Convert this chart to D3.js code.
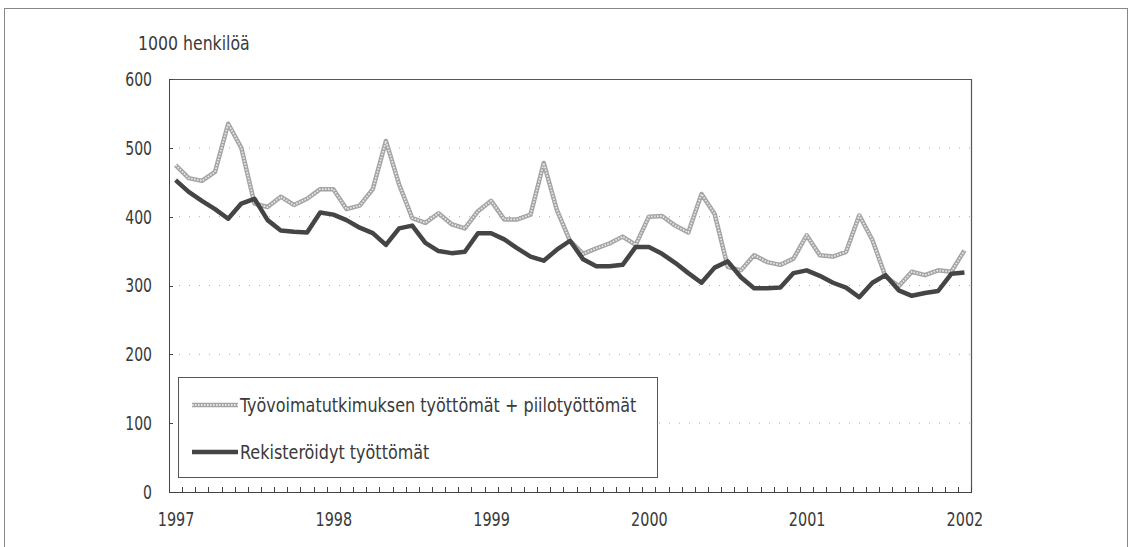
<!DOCTYPE html>
<html lang="fi">
<head>
<meta charset="utf-8">
<title>Työttömät 1997-2002</title>
<script src="https://cdn.jsdelivr.net/npm/d3@7"></script>
<style>
  body { margin: 0; background: #fff; }
  svg text { font-family: "Liberation Sans Narrow", "Arial Narrow", "DejaVu Sans Condensed", "DejaVu Sans", sans-serif; fill: #3a3a3a; }
  .axis path, .axis line { stroke: #444; shape-rendering: crispEdges; }
  .axis text { font-size: 20px; }
  .grid line { stroke: #aaa; stroke-dasharray: 1 9; }
</style>
</head>
<body>
<div id="chart"></div>
<script>
// vuodet (x-akselin nimiöt) ja y-akselin arvot
var years = ["1997", "1998", "1999", "2000", "2001", "2002"];
var yTicks = [0, 100, 200, 300, 400, 500, 600];

// kuukausittaiset arvot 1/1997 - 1/2002, 1000 henkilöä
var tyovoima = [475, 456, 452, 465, 535, 500, 419, 414, 429, 417, 426, 440,
                440, 411, 416, 440, 510, 447, 398, 391, 405, 389, 383, 408,
                423, 396, 396, 403, 478, 410, 365, 346, 354, 361, 371, 359,
                400, 401, 387, 377, 433, 404, 327, 322, 344, 334, 330, 339,
                373, 344, 342, 349, 402, 366, 313, 299, 320, 315, 322, 320,
                351];
var rekisteri = [453, 436, 423, 411, 397, 419, 426, 395, 380, 378, 377, 406,
                 403, 395, 384, 376, 359, 383, 387, 362, 350, 347, 349, 376,
                 376, 367, 354, 342, 336, 352, 365, 338, 328, 328, 330, 356,
                 356, 346, 333, 318, 304, 326, 335, 312, 296, 296, 297, 318,
                 322, 314, 304, 297, 283, 304, 315, 293, 285, 289, 292, 317,
                 319];
var legendLabels = ["Työvoimatutkimuksen työttömät + piilotyöttömät", "Rekisteröidyt työttömät"];

(function() {
var w = 1132, h = 547;
var pLeft = 169, pRight = 971, pTop = 79, pBottom = 492;
var n = tyovoima.length;

// kapeampi kirjasin: puristetaan tekstiä vaakasuunnassa
function condense(sel, k) {
  sel.each(function() {
    var len = this.getComputedTextLength();
    d3.select(this).attr("textLength", len * k).attr("lengthAdjust", "spacingAndGlyphs");
  });
}

var svg = d3.select("#chart").append("svg")
            .attr("width", w)
            .attr("height", h);

// ulkokehys
svg.append("rect")
   .attr("x", 4.5).attr("y", 8.5)
   .attr("width", 1123).attr("height", 560)
   .attr("fill", "none").attr("stroke", "#888");

var xScale = d3.scaleLinear().domain([0, n]).range([pLeft, pRight]);
var yScale = d3.scaleLinear().domain([0, 600]).range([pBottom, pTop]);

// apuviivat
svg.append("g").attr("class", "grid")
   .selectAll("line")
   .data(yTicks.filter(function(d){ return d > 0 && d < 600; }))
   .enter().append("line")
   .attr("x1", pLeft).attr("x2", pRight)
   .attr("y1", function(d){ return yScale(d); })
   .attr("y2", function(d){ return yScale(d); });

// kuva-alueen kehys (ylä- ja oikea reuna)
svg.append("path")
   .attr("d", "M" + pLeft + "," + (pTop + 0.5) + "H" + (pRight + 0.5) + "V" + pBottom)
   .attr("fill", "none").attr("stroke", "#555").attr("stroke-width", 1.2);

// y-akseli
svg.append("g").attr("class", "axis")
   .attr("transform", "translate(" + pLeft + ",0)")
   .call(d3.axisLeft(yScale).tickValues(yTicks).tickSize(-4).tickPadding(17))
   .call(function(g){ g.select(".domain").attr("stroke-width", 1.5); })
   .call(function(g){ condense(g.selectAll("text"), 0.78); });

// x-akseli: kuukausijaot
svg.append("g").attr("class", "axis")
   .attr("transform", "translate(0," + pBottom + ")")
   .call(d3.axisBottom(xScale).tickValues(d3.range(0, n + 1)).tickSize(-5).tickFormat(""))
   .call(function(g){ g.select(".domain").attr("stroke-width", 1.5); });

// vuosinimiöt
svg.append("g").attr("class", "axis")
   .attr("transform", "translate(0," + pBottom + ")")
   .call(d3.axisBottom(xScale)
           .tickValues(years.map(function(d, i){ return i * 12 + 0.5; }))
           .tickSize(0).tickPadding(20)
           .tickFormat(function(d){ return years[Math.round((d - 0.5) / 12)]; }))
   .call(function(g){ g.select(".domain").remove(); })
   .call(function(g){ condense(g.selectAll("text"), 0.8); });

var line = d3.line()
             .x(function(d, i){ return xScale(i + 0.5); })
             .y(function(d){ return yScale(d); });

// harmaa "helminauha"-viiva
svg.append("path").datum(tyovoima)
   .attr("d", line).attr("fill", "none")
   .attr("stroke", "#a4a4a4").attr("stroke-width", 4.5).attr("stroke-linejoin", "round");
svg.append("path").datum(tyovoima)
   .attr("d", line).attr("fill", "none")
   .attr("stroke", "#e8e8e8").attr("stroke-width", 1.8)
   .attr("stroke-dasharray", "1.6 1.4");

svg.append("path").datum(rekisteri)
   .attr("d", line).attr("fill", "none")
   .attr("stroke", "#454545").attr("stroke-width", 4.5).attr("stroke-linejoin", "round");

// yksikkö
svg.append("text")
   .attr("x", 138).attr("y", 50)
   .attr("font-size", 19)
   .text("1000 henkilöä")
   .call(condense, 0.92);

// selite
var lg = svg.append("g");
lg.append("rect")
  .attr("x", 178.5).attr("y", 377.5)
  .attr("width", 479).attr("height", 100)
  .attr("fill", "#fff").attr("stroke", "#555");

var items = lg.selectAll("g.item").data(legendLabels).enter()
  .append("g").attr("class", "item")
  .attr("transform", function(d, i){ return "translate(192," + (405 + i * 47) + ")"; });
items.append("line")
  .attr("x1", 0).attr("x2", 46)
  .attr("stroke", function(d, i){ return i === 0 ? "#a4a4a4" : "#454545"; })
  .attr("stroke-width", 4.5);
items.filter(function(d, i){ return i === 0; }).append("line")
  .attr("x1", 0).attr("x2", 46)
  .attr("stroke", "#e8e8e8").attr("stroke-width", 1.8)
  .attr("stroke-dasharray", "1.6 1.4");
items.append("text")
  .attr("x", 48).attr("y", 7)
  .attr("font-size", 20)
  .text(function(d){ return d; })
  .call(condense, 0.89);
})();
</script>
</body>
</html>
